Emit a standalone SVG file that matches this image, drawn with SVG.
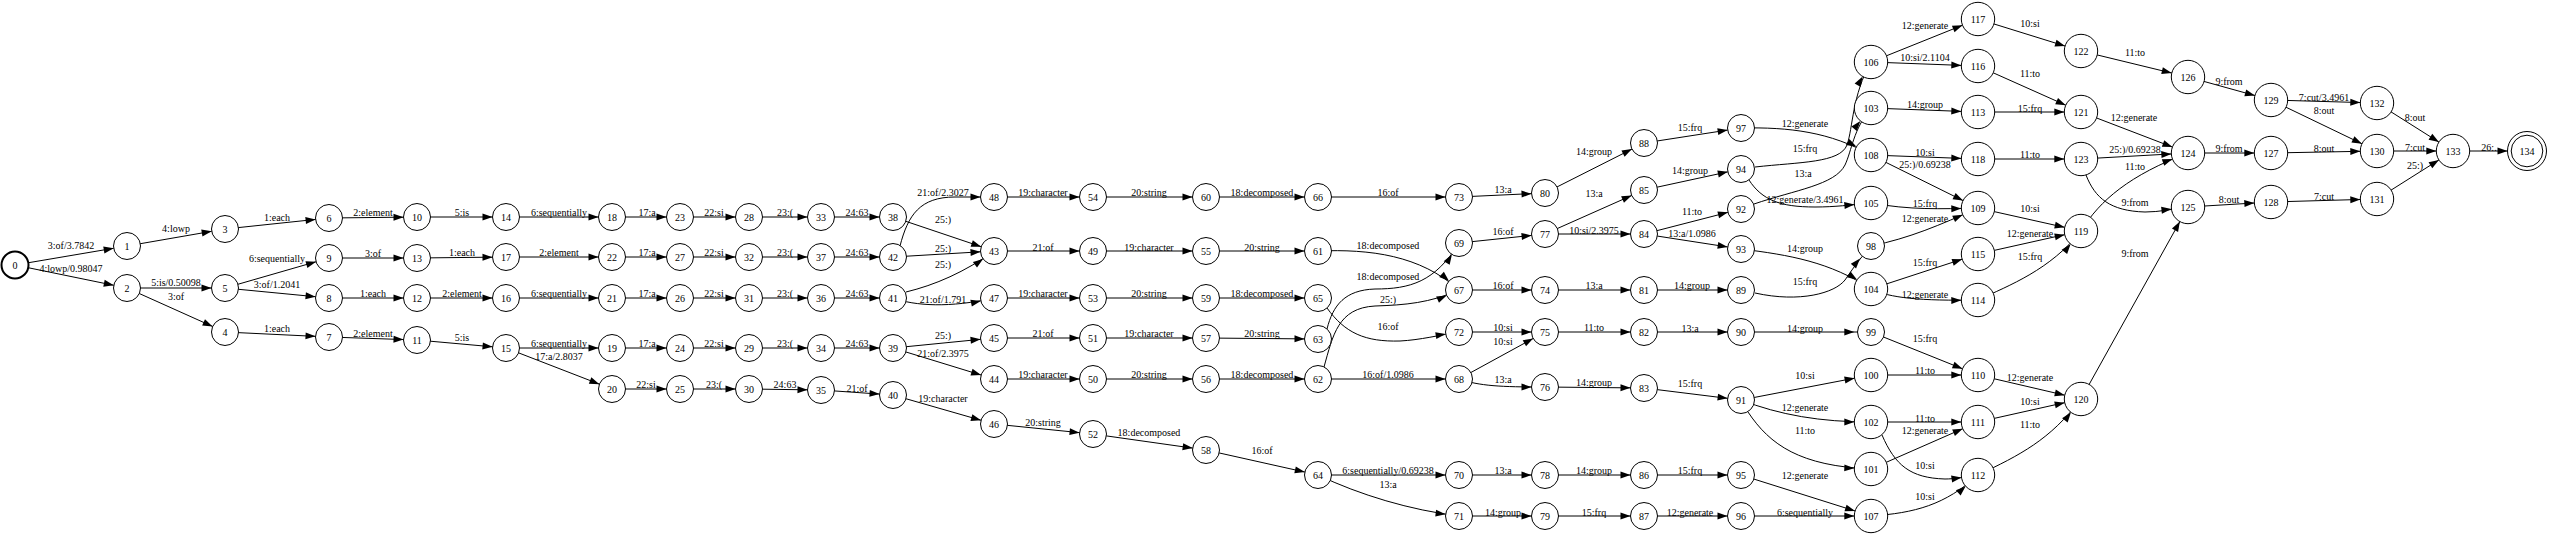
<svg xmlns="http://www.w3.org/2000/svg" width="2550" height="536" viewBox="0 0 2550 536">
<style>
.e{fill:none;stroke:#000;stroke-width:1}
.m{marker-end:url(#a13)}
.M{marker-end:url(#a17)}
.l{font-family:"Liberation Serif","Times New Roman",serif;font-size:10px;text-anchor:middle;fill:#000}
.n circle{fill:#fff;stroke:#000;stroke-width:1}
.n text{font-family:"Liberation Serif","Times New Roman",serif;font-size:10px;text-anchor:middle;fill:#000}
</style>
<defs>
<marker id="a13" markerUnits="userSpaceOnUse" markerWidth="10" markerHeight="7" refX="23.5" refY="3.5" orient="auto" overflow="visible"><path d="M0,0L10,3.5L0,7z" fill="#000"/></marker>
<marker id="a17" markerUnits="userSpaceOnUse" markerWidth="10" markerHeight="7" refX="26.7" refY="3.5" orient="auto" overflow="visible"><path d="M0,0L10,3.5L0,7z" fill="#000"/></marker>
<marker id="a20" markerUnits="userSpaceOnUse" markerWidth="10" markerHeight="7" refX="29.5" refY="3.5" orient="auto" overflow="visible"><path d="M0,0L10,3.5L0,7z" fill="#000"/></marker>
</defs>
<rect width="2550" height="536" fill="#fff"/>
<g id="connectors">
<path class="e m" d="M15,265L127,246"/><text class="l" x="71" y="248.5">3:of/3.7842</text>
<path class="e m" d="M15,265L127,288"/><text class="l" x="71" y="272">4:lowp/0.98047</text>
<path class="e m" d="M127,246L225,229"/><text class="l" x="176" y="231.5">4:lowp</text>
<path class="e m" d="M127,288L225,288"/><text class="l" x="176" y="285.5">5:is/0.50098</text>
<path class="e m" d="M127,288L225,332"/><text class="l" x="176" y="299.5">3:of</text>
<path class="e m" d="M225,229L329,218"/><text class="l" x="277" y="220.5">1:each</text>
<path class="e m" d="M225,288L329,258"/><text class="l" x="277" y="261.5">6:sequentially</text>
<path class="e m" d="M225,288L329,298"/><text class="l" x="277" y="287.5">3:of/1.2041</text>
<path class="e m" d="M225,332L329,337"/><text class="l" x="277" y="331.5">1:each</text>
<path class="e m" d="M329,218L417,217"/><text class="l" x="373" y="215.5">2:element</text>
<path class="e m" d="M329,258L417,258"/><text class="l" x="373" y="256.5">3:of</text>
<path class="e m" d="M329,298L417,298"/><text class="l" x="373" y="296.5">1:each</text>
<path class="e m" d="M329,337L417,340"/><text class="l" x="373" y="336.5">2:element</text>
<path class="e m" d="M417,217L506,217"/><text class="l" x="462" y="215.5">5:is</text>
<path class="e m" d="M417,258L506,257"/><text class="l" x="462" y="255.5">1:each</text>
<path class="e m" d="M417,298L506,298"/><text class="l" x="462" y="296.5">2:element</text>
<path class="e m" d="M417,340L506,348"/><text class="l" x="462" y="340.5">5:is</text>
<path class="e m" d="M506,217L612,217"/><text class="l" x="559" y="215.5">6:sequentially</text>
<path class="e m" d="M506,257L612,257"/><text class="l" x="559" y="255.5">2:element</text>
<path class="e m" d="M506,298L612,298"/><text class="l" x="559" y="296.5">6:sequentially</text>
<path class="e m" d="M506,348L612,348"/><text class="l" x="559" y="346.5">6:sequentially</text>
<path class="e m" d="M506,348L612,389"/><text class="l" x="559" y="359.5">17:a/2.8037</text>
<path class="e m" d="M612,217L680,217"/><text class="l" x="647" y="215.5">17:a</text>
<path class="e m" d="M612,257L680,257"/><text class="l" x="647" y="255.5">17:a</text>
<path class="e m" d="M612,298L680,298"/><text class="l" x="647" y="296.5">17:a</text>
<path class="e m" d="M612,348L680,348"/><text class="l" x="647" y="346.5">17:a</text>
<path class="e m" d="M612,389L680,389"/><text class="l" x="646" y="387.5">22:si</text>
<path class="e m" d="M680,217L749,217"/><text class="l" x="714" y="215.5">22:si</text>
<path class="e m" d="M680,257L749,257"/><text class="l" x="714" y="255.5">22:si</text>
<path class="e m" d="M680,298L749,298"/><text class="l" x="714" y="296.5">22:si</text>
<path class="e m" d="M680,348L749,348"/><text class="l" x="714" y="346.5">22:si</text>
<path class="e m" d="M680,389L749,389"/><text class="l" x="714" y="387.5">23:(</text>
<path class="e m" d="M749,217L821,217"/><text class="l" x="785" y="215.5">23:(</text>
<path class="e m" d="M749,257L821,257"/><text class="l" x="785" y="255.5">23:(</text>
<path class="e m" d="M749,298L821,298"/><text class="l" x="785" y="296.5">23:(</text>
<path class="e m" d="M749,348L821,348"/><text class="l" x="785" y="346.5">23:(</text>
<path class="e m" d="M749,389L821,390"/><text class="l" x="785" y="387.5">24:63</text>
<path class="e m" d="M821,217L893,217"/><text class="l" x="857" y="215.5">24:63</text>
<path class="e m" d="M821,257L893,257"/><text class="l" x="857" y="255.5">24:63</text>
<path class="e m" d="M821,298L893,298"/><text class="l" x="857" y="296.5">24:63</text>
<path class="e m" d="M821,348L893,348"/><text class="l" x="857" y="346.5">24:63</text>
<path class="e m" d="M821,390L893,395"/><text class="l" x="857" y="391.5">21:of</text>
<path class="e m" d="M893,217L994,251"/><text class="l" x="943" y="222.5">25:)</text>
<path class="e m" d="M900,246C908,215 920,197 955,197L994,197"/><text class="l" x="943" y="195.5">21:of/2.3027</text>
<path class="e m" d="M893,257L994,251"/><text class="l" x="943" y="251.5">25:)</text>
<path class="e m" d="M906,292C935,285 965,272 994,251"/><text class="l" x="943" y="267.5">25:)</text>
<path class="e m" d="M893,298C915,306 950,308 994,298"/><text class="l" x="943" y="302.5">21:of/1.791</text>
<path class="e m" d="M893,348L994,338"/><text class="l" x="943" y="338.5">25:)</text>
<path class="e m" d="M893,348L994,379"/><text class="l" x="943" y="356.5">21:of/2.3975</text>
<path class="e m" d="M893,395L994,424"/><text class="l" x="943" y="401.5">19:character</text>
<path class="e m" d="M994,197L1093,197"/><text class="l" x="1043" y="195.5">19:character</text>
<path class="e m" d="M994,251L1093,251"/><text class="l" x="1043" y="250.5">21:of</text>
<path class="e m" d="M994,298L1093,298"/><text class="l" x="1043" y="296.5">19:character</text>
<path class="e m" d="M994,338L1093,338"/><text class="l" x="1043" y="336.5">21:of</text>
<path class="e m" d="M994,379L1093,379"/><text class="l" x="1043" y="377.5">19:character</text>
<path class="e m" d="M994,424L1093,434"/><text class="l" x="1043" y="425.5">20:string</text>
<path class="e m" d="M1093,197L1206,197"/><text class="l" x="1149" y="195.5">20:string</text>
<path class="e m" d="M1093,251L1206,251"/><text class="l" x="1149" y="250.5">19:character</text>
<path class="e m" d="M1093,298L1206,298"/><text class="l" x="1149" y="296.5">20:string</text>
<path class="e m" d="M1093,338L1206,338"/><text class="l" x="1149" y="336.5">19:character</text>
<path class="e m" d="M1093,379L1206,379"/><text class="l" x="1149" y="377.5">20:string</text>
<path class="e m" d="M1093,434L1206,450"/><text class="l" x="1149" y="435.5">18:decomposed</text>
<path class="e m" d="M1206,197L1318,197"/><text class="l" x="1262" y="195.5">18:decomposed</text>
<path class="e m" d="M1206,251L1318,251"/><text class="l" x="1262" y="250.5">20:string</text>
<path class="e m" d="M1206,298L1318,298"/><text class="l" x="1262" y="296.5">18:decomposed</text>
<path class="e m" d="M1206,338L1318,339"/><text class="l" x="1262" y="336.5">20:string</text>
<path class="e m" d="M1206,379L1318,379"/><text class="l" x="1262" y="377.5">18:decomposed</text>
<path class="e m" d="M1206,450L1318,475"/><text class="l" x="1262" y="453.5">16:of</text>
<path class="e m" d="M1318,197L1459,197"/><text class="l" x="1388" y="195.5">16:of</text>
<path class="e m" d="M1318,251C1370,249 1420,255 1459,290"/><text class="l" x="1388" y="248.5">18:decomposed</text>
<path class="e m" d="M1327,329C1333,305 1345,290 1375,289C1410,289 1435,282 1459,243"/><text class="l" x="1388" y="279.5">18:decomposed</text>
<path class="e m" d="M1324,367C1333,335 1338,308 1375,306C1405,305 1430,303 1459,290"/><text class="l" x="1388" y="302.5">25:)</text>
<path class="e m" d="M1327,308C1345,333 1365,342 1400,341C1420,340 1440,335 1459,332"/><text class="l" x="1388" y="329.5">16:of</text>
<path class="e m" d="M1318,379L1459,379"/><text class="l" x="1388" y="377.5">16:of/1.0986</text>
<path class="e m" d="M1318,475L1459,475"/><text class="l" x="1388" y="473.5">6:sequentially/0.69238</text>
<path class="e m" d="M1318,475C1360,495 1410,510 1459,516"/><text class="l" x="1388" y="487.5">13:a</text>
<path class="e m" d="M1459,197L1545,193"/><text class="l" x="1503" y="192.5">13:a</text>
<path class="e m" d="M1459,243L1545,234"/><text class="l" x="1503" y="234.5">16:of</text>
<path class="e m" d="M1459,290L1545,290"/><text class="l" x="1503" y="288.5">16:of</text>
<path class="e m" d="M1459,332L1545,332"/><text class="l" x="1503" y="330.5">10:si</text>
<path class="e m" d="M1459,379L1545,332"/><text class="l" x="1503" y="344.5">10:si</text>
<path class="e m" d="M1459,379C1480,386 1500,387 1545,387"/><text class="l" x="1503" y="382.5">13:a</text>
<path class="e m" d="M1459,475L1545,475"/><text class="l" x="1503" y="473.5">13:a</text>
<path class="e m" d="M1459,516L1545,516"/><text class="l" x="1503" y="515.5">14:group</text>
<path class="e m" d="M1545,193L1644,143"/><text class="l" x="1594" y="154.5">14:group</text>
<path class="e m" d="M1545,234L1644,190"/><text class="l" x="1594" y="196.5">13:a</text>
<path class="e m" d="M1545,234L1644,234"/><text class="l" x="1594" y="233.5">10:si/2.3975</text>
<path class="e m" d="M1545,290L1644,290"/><text class="l" x="1594" y="288.5">13:a</text>
<path class="e m" d="M1545,332L1644,332"/><text class="l" x="1594" y="330.5">11:to</text>
<path class="e m" d="M1545,387L1644,388"/><text class="l" x="1594" y="385.5">14:group</text>
<path class="e m" d="M1545,475L1644,475"/><text class="l" x="1594" y="473.5">14:group</text>
<path class="e m" d="M1545,516L1644,516"/><text class="l" x="1594" y="515.5">15:frq</text>
<path class="e m" d="M1644,143L1741,128"/><text class="l" x="1690" y="130.5">15:frq</text>
<path class="e m" d="M1644,190L1741,169"/><text class="l" x="1690" y="173.5">14:group</text>
<path class="e m" d="M1644,234L1741,209"/><text class="l" x="1692" y="214.5">11:to</text>
<path class="e m" d="M1644,234L1741,249"/><text class="l" x="1692" y="236.5">13:a/1.0986</text>
<path class="e m" d="M1644,290L1741,290"/><text class="l" x="1692" y="288.5">14:group</text>
<path class="e m" d="M1644,332L1741,332"/><text class="l" x="1690" y="331.5">13:a</text>
<path class="e m" d="M1644,388L1741,400"/><text class="l" x="1690" y="386.5">15:frq</text>
<path class="e m" d="M1644,475L1741,475"/><text class="l" x="1690" y="473.5">15:frq</text>
<path class="e m" d="M1644,516L1741,516"/><text class="l" x="1690" y="515.5">12:generate</text>
<path class="e M" d="M1741,128C1790,127 1830,132 1871,155"/><text class="l" x="1805" y="126.5">12:generate</text>
<path class="e M" d="M1755,167C1800,162 1840,163 1847,145C1853,128 1852,95 1871,62"/><text class="l" x="1805" y="151.5">15:frq</text>
<path class="e M" d="M1754,204C1795,190 1835,185 1845,165C1852,150 1853,130 1871,108"/><text class="l" x="1803" y="176.5">13:a</text>
<path class="e M" d="M1749,180C1762,200 1780,207 1815,207C1835,207 1850,205 1871,203"/><text class="l" x="1805" y="202.5">12:generate/3.4961</text>
<path class="e M" d="M1741,249C1790,255 1830,262 1871,289"/><text class="l" x="1805" y="251.5">14:group</text>
<path class="e M" d="M1755,293C1800,303 1835,293 1845,280C1852,270 1857,262 1871,246"/><text class="l" x="1805" y="284.5">15:frq</text>
<path class="e M" d="M1741,332L1871,332"/><text class="l" x="1805" y="331.5">14:group</text>
<path class="e M" d="M1741,400L1871,375"/><text class="l" x="1805" y="378.5">10:si</text>
<path class="e M" d="M1741,400C1780,415 1820,422 1871,422"/><text class="l" x="1805" y="410.5">12:generate</text>
<path class="e M" d="M1748,412C1770,445 1800,466 1871,469"/><text class="l" x="1805" y="433.5">11:to</text>
<path class="e M" d="M1741,475L1871,516"/><text class="l" x="1805" y="478.5">12:generate</text>
<path class="e M" d="M1741,516L1871,516"/><text class="l" x="1805" y="515.5">6:sequentially</text>
<path class="e M" d="M1871,62L1978,19"/><text class="l" x="1925" y="28.5">12:generate</text>
<path class="e M" d="M1871,62L1978,66"/><text class="l" x="1925" y="60.5">10:si/2.1104</text>
<path class="e M" d="M1871,108L1978,112"/><text class="l" x="1925" y="107.5">14:group</text>
<path class="e M" d="M1871,155L1978,159"/><text class="l" x="1925" y="155.5">10:si</text>
<path class="e M" d="M1871,155L1978,208"/><text class="l" x="1925" y="167.5">25:)/0.69238</text>
<path class="e M" d="M1871,203C1910,210 1940,209 1978,208"/><text class="l" x="1925" y="206.5">15:frq</text>
<path class="e M" d="M1871,246C1910,238 1940,225 1978,208"/><text class="l" x="1925" y="221.5">12:generate</text>
<path class="e M" d="M1871,289L1978,254"/><text class="l" x="1925" y="265.5">15:frq</text>
<path class="e M" d="M1871,289C1890,298 1920,301 1978,300"/><text class="l" x="1925" y="297.5">12:generate</text>
<path class="e M" d="M1871,332L1978,375"/><text class="l" x="1925" y="341.5">15:frq</text>
<path class="e M" d="M1871,375L1978,375"/><text class="l" x="1925" y="373.5">11:to</text>
<path class="e M" d="M1871,422L1978,422"/><text class="l" x="1925" y="421.5">11:to</text>
<path class="e M" d="M1871,469L1978,422"/><text class="l" x="1925" y="433.5">12:generate</text>
<path class="e M" d="M1882,435C1895,465 1910,478 1945,479C1955,479 1965,477 1978,475"/><text class="l" x="1925" y="468.5">10:si</text>
<path class="e M" d="M1871,516C1915,513 1945,505 1978,475"/><text class="l" x="1925" y="499.5">10:si</text>
<path class="e M" d="M1978,19L2081,51"/><text class="l" x="2030" y="26.5">10:si</text>
<path class="e M" d="M1978,66L2081,112"/><text class="l" x="2030" y="76.5">11:to</text>
<path class="e M" d="M1978,112L2081,112"/><text class="l" x="2030" y="111.5">15:frq</text>
<path class="e M" d="M1978,159L2081,159"/><text class="l" x="2030" y="157.5">11:to</text>
<path class="e M" d="M1978,208L2081,231"/><text class="l" x="2030" y="211.5">10:si</text>
<path class="e M" d="M1978,254L2081,231"/><text class="l" x="2030" y="236.5">12:generate</text>
<path class="e M" d="M1978,300C2010,285 2050,270 2081,231"/><text class="l" x="2030" y="259.5">15:frq</text>
<path class="e M" d="M1978,375L2081,399"/><text class="l" x="2030" y="380.5">12:generate</text>
<path class="e M" d="M1978,422L2081,399"/><text class="l" x="2030" y="404.5">10:si</text>
<path class="e M" d="M1978,475C2020,455 2050,440 2081,399"/><text class="l" x="2030" y="427.5">11:to</text>
<path class="e M" d="M2081,51L2188,77"/><text class="l" x="2135" y="55.5">11:to</text>
<path class="e M" d="M2081,112L2188,153"/><text class="l" x="2134" y="120.5">12:generate</text>
<path class="e M" d="M2081,159L2188,153"/><text class="l" x="2135" y="152.5">25:)/0.69238</text>
<path class="e M" d="M2081,231C2100,200 2130,175 2188,153"/><text class="l" x="2135" y="169.5">11:to</text>
<path class="e M" d="M2086,175C2095,198 2110,211 2145,212C2160,212 2172,209 2188,207"/><text class="l" x="2135" y="205.5">9:from</text>
<path class="e M" d="M2081,399L2188,207"/><text class="l" x="2135" y="256.5">9:from</text>
<path class="e M" d="M2188,77L2271,100"/><text class="l" x="2229" y="84.5">9:from</text>
<path class="e M" d="M2188,153L2271,153"/><text class="l" x="2229" y="151.5">9:from</text>
<path class="e M" d="M2188,207L2271,202"/><text class="l" x="2229" y="202.5">8:out</text>
<path class="e M" d="M2271,100L2377,103"/><text class="l" x="2324" y="100.5">7:cut/3.4961</text>
<path class="e M" d="M2271,100L2377,151"/><text class="l" x="2324" y="113.5">8:out</text>
<path class="e M" d="M2271,153L2377,151"/><text class="l" x="2324" y="151.5">8:out</text>
<path class="e M" d="M2271,202L2377,199"/><text class="l" x="2324" y="199.5">7:cut</text>
<path class="e M" d="M2377,103L2453,151"/><text class="l" x="2415" y="120.5">8:out</text>
<path class="e M" d="M2377,151L2453,151"/><text class="l" x="2415" y="150.5">7:cut</text>
<path class="e M" d="M2377,199L2453,151"/><text class="l" x="2415" y="168.5">25:)</text>
<path class="e" marker-end="url(#a20)" d="M2453,151L2527,151"/><text class="l" x="2489" y="150.5">26:.</text>
</g>
<g id="nodes">
<g id="n0" class="n"><circle cx="15" cy="265" r="13.5" style="stroke-width:2"/><text x="15" y="268.5">0</text></g>
<g id="n1" class="n"><circle cx="127" cy="246" r="13.5"/><text x="127" y="249.5">1</text></g>
<g id="n2" class="n"><circle cx="127" cy="288" r="13.5"/><text x="127" y="291.5">2</text></g>
<g id="n3" class="n"><circle cx="225" cy="229" r="13.5"/><text x="225" y="232.5">3</text></g>
<g id="n4" class="n"><circle cx="225" cy="332" r="13.5"/><text x="225" y="335.5">4</text></g>
<g id="n5" class="n"><circle cx="225" cy="288" r="13.5"/><text x="225" y="291.5">5</text></g>
<g id="n6" class="n"><circle cx="329" cy="218" r="13.5"/><text x="329" y="221.5">6</text></g>
<g id="n7" class="n"><circle cx="329" cy="337" r="13.5"/><text x="329" y="340.5">7</text></g>
<g id="n8" class="n"><circle cx="329" cy="298" r="13.5"/><text x="329" y="301.5">8</text></g>
<g id="n9" class="n"><circle cx="329" cy="258" r="13.5"/><text x="329" y="261.5">9</text></g>
<g id="n10" class="n"><circle cx="417" cy="217" r="13.5"/><text x="417" y="220.5">10</text></g>
<g id="n11" class="n"><circle cx="417" cy="340" r="13.5"/><text x="417" y="343.5">11</text></g>
<g id="n12" class="n"><circle cx="417" cy="298" r="13.5"/><text x="417" y="301.5">12</text></g>
<g id="n13" class="n"><circle cx="417" cy="258" r="13.5"/><text x="417" y="261.5">13</text></g>
<g id="n14" class="n"><circle cx="506" cy="217" r="13.5"/><text x="506" y="220.5">14</text></g>
<g id="n15" class="n"><circle cx="506" cy="348" r="13.5"/><text x="506" y="351.5">15</text></g>
<g id="n16" class="n"><circle cx="506" cy="298" r="13.5"/><text x="506" y="301.5">16</text></g>
<g id="n17" class="n"><circle cx="506" cy="257" r="13.5"/><text x="506" y="260.5">17</text></g>
<g id="n18" class="n"><circle cx="612" cy="217" r="13.5"/><text x="612" y="220.5">18</text></g>
<g id="n19" class="n"><circle cx="612" cy="348" r="13.5"/><text x="612" y="351.5">19</text></g>
<g id="n20" class="n"><circle cx="612" cy="389" r="13.5"/><text x="612" y="392.5">20</text></g>
<g id="n21" class="n"><circle cx="612" cy="298" r="13.5"/><text x="612" y="301.5">21</text></g>
<g id="n22" class="n"><circle cx="612" cy="257" r="13.5"/><text x="612" y="260.5">22</text></g>
<g id="n23" class="n"><circle cx="680" cy="217" r="13.5"/><text x="680" y="220.5">23</text></g>
<g id="n24" class="n"><circle cx="680" cy="348" r="13.5"/><text x="680" y="351.5">24</text></g>
<g id="n25" class="n"><circle cx="680" cy="389" r="13.5"/><text x="680" y="392.5">25</text></g>
<g id="n26" class="n"><circle cx="680" cy="298" r="13.5"/><text x="680" y="301.5">26</text></g>
<g id="n27" class="n"><circle cx="680" cy="257" r="13.5"/><text x="680" y="260.5">27</text></g>
<g id="n28" class="n"><circle cx="749" cy="217" r="13.5"/><text x="749" y="220.5">28</text></g>
<g id="n29" class="n"><circle cx="749" cy="348" r="13.5"/><text x="749" y="351.5">29</text></g>
<g id="n30" class="n"><circle cx="749" cy="389" r="13.5"/><text x="749" y="392.5">30</text></g>
<g id="n31" class="n"><circle cx="749" cy="298" r="13.5"/><text x="749" y="301.5">31</text></g>
<g id="n32" class="n"><circle cx="749" cy="257" r="13.5"/><text x="749" y="260.5">32</text></g>
<g id="n33" class="n"><circle cx="821" cy="217" r="13.5"/><text x="821" y="220.5">33</text></g>
<g id="n34" class="n"><circle cx="821" cy="348" r="13.5"/><text x="821" y="351.5">34</text></g>
<g id="n35" class="n"><circle cx="821" cy="390" r="13.5"/><text x="821" y="393.5">35</text></g>
<g id="n36" class="n"><circle cx="821" cy="298" r="13.5"/><text x="821" y="301.5">36</text></g>
<g id="n37" class="n"><circle cx="821" cy="257" r="13.5"/><text x="821" y="260.5">37</text></g>
<g id="n38" class="n"><circle cx="893" cy="217" r="13.5"/><text x="893" y="220.5">38</text></g>
<g id="n39" class="n"><circle cx="893" cy="348" r="13.5"/><text x="893" y="351.5">39</text></g>
<g id="n40" class="n"><circle cx="893" cy="395" r="13.5"/><text x="893" y="398.5">40</text></g>
<g id="n41" class="n"><circle cx="893" cy="298" r="13.5"/><text x="893" y="301.5">41</text></g>
<g id="n42" class="n"><circle cx="893" cy="257" r="13.5"/><text x="893" y="260.5">42</text></g>
<g id="n43" class="n"><circle cx="994" cy="251" r="13.5"/><text x="994" y="254.5">43</text></g>
<g id="n44" class="n"><circle cx="994" cy="379" r="13.5"/><text x="994" y="382.5">44</text></g>
<g id="n45" class="n"><circle cx="994" cy="338" r="13.5"/><text x="994" y="341.5">45</text></g>
<g id="n46" class="n"><circle cx="994" cy="424" r="13.5"/><text x="994" y="427.5">46</text></g>
<g id="n47" class="n"><circle cx="994" cy="298" r="13.5"/><text x="994" y="301.5">47</text></g>
<g id="n48" class="n"><circle cx="994" cy="197" r="13.5"/><text x="994" y="200.5">48</text></g>
<g id="n49" class="n"><circle cx="1093" cy="251" r="13.5"/><text x="1093" y="254.5">49</text></g>
<g id="n50" class="n"><circle cx="1093" cy="379" r="13.5"/><text x="1093" y="382.5">50</text></g>
<g id="n51" class="n"><circle cx="1093" cy="338" r="13.5"/><text x="1093" y="341.5">51</text></g>
<g id="n52" class="n"><circle cx="1093" cy="434" r="13.5"/><text x="1093" y="437.5">52</text></g>
<g id="n53" class="n"><circle cx="1093" cy="298" r="13.5"/><text x="1093" y="301.5">53</text></g>
<g id="n54" class="n"><circle cx="1093" cy="197" r="13.5"/><text x="1093" y="200.5">54</text></g>
<g id="n55" class="n"><circle cx="1206" cy="251" r="13.5"/><text x="1206" y="254.5">55</text></g>
<g id="n56" class="n"><circle cx="1206" cy="379" r="13.5"/><text x="1206" y="382.5">56</text></g>
<g id="n57" class="n"><circle cx="1206" cy="338" r="13.5"/><text x="1206" y="341.5">57</text></g>
<g id="n58" class="n"><circle cx="1206" cy="450" r="13.5"/><text x="1206" y="453.5">58</text></g>
<g id="n59" class="n"><circle cx="1206" cy="298" r="13.5"/><text x="1206" y="301.5">59</text></g>
<g id="n60" class="n"><circle cx="1206" cy="197" r="13.5"/><text x="1206" y="200.5">60</text></g>
<g id="n61" class="n"><circle cx="1318" cy="251" r="13.5"/><text x="1318" y="254.5">61</text></g>
<g id="n62" class="n"><circle cx="1318" cy="379" r="13.5"/><text x="1318" y="382.5">62</text></g>
<g id="n63" class="n"><circle cx="1318" cy="339" r="13.5"/><text x="1318" y="342.5">63</text></g>
<g id="n64" class="n"><circle cx="1318" cy="475" r="13.5"/><text x="1318" y="478.5">64</text></g>
<g id="n65" class="n"><circle cx="1318" cy="298" r="13.5"/><text x="1318" y="301.5">65</text></g>
<g id="n66" class="n"><circle cx="1318" cy="197" r="13.5"/><text x="1318" y="200.5">66</text></g>
<g id="n67" class="n"><circle cx="1459" cy="290" r="13.5"/><text x="1459" y="293.5">67</text></g>
<g id="n68" class="n"><circle cx="1459" cy="379" r="13.5"/><text x="1459" y="382.5">68</text></g>
<g id="n69" class="n"><circle cx="1459" cy="243" r="13.5"/><text x="1459" y="246.5">69</text></g>
<g id="n70" class="n"><circle cx="1459" cy="475" r="13.5"/><text x="1459" y="478.5">70</text></g>
<g id="n71" class="n"><circle cx="1459" cy="516" r="13.5"/><text x="1459" y="519.5">71</text></g>
<g id="n72" class="n"><circle cx="1459" cy="332" r="13.5"/><text x="1459" y="335.5">72</text></g>
<g id="n73" class="n"><circle cx="1459" cy="197" r="13.5"/><text x="1459" y="200.5">73</text></g>
<g id="n74" class="n"><circle cx="1545" cy="290" r="13.5"/><text x="1545" y="293.5">74</text></g>
<g id="n75" class="n"><circle cx="1545" cy="332" r="13.5"/><text x="1545" y="335.5">75</text></g>
<g id="n76" class="n"><circle cx="1545" cy="387" r="13.5"/><text x="1545" y="390.5">76</text></g>
<g id="n77" class="n"><circle cx="1545" cy="234" r="13.5"/><text x="1545" y="237.5">77</text></g>
<g id="n78" class="n"><circle cx="1545" cy="475" r="13.5"/><text x="1545" y="478.5">78</text></g>
<g id="n79" class="n"><circle cx="1545" cy="516" r="13.5"/><text x="1545" y="519.5">79</text></g>
<g id="n80" class="n"><circle cx="1545" cy="193" r="13.5"/><text x="1545" y="196.5">80</text></g>
<g id="n81" class="n"><circle cx="1644" cy="290" r="13.5"/><text x="1644" y="293.5">81</text></g>
<g id="n82" class="n"><circle cx="1644" cy="332" r="13.5"/><text x="1644" y="335.5">82</text></g>
<g id="n83" class="n"><circle cx="1644" cy="388" r="13.5"/><text x="1644" y="391.5">83</text></g>
<g id="n84" class="n"><circle cx="1644" cy="234" r="13.5"/><text x="1644" y="237.5">84</text></g>
<g id="n85" class="n"><circle cx="1644" cy="190" r="13.5"/><text x="1644" y="193.5">85</text></g>
<g id="n86" class="n"><circle cx="1644" cy="475" r="13.5"/><text x="1644" y="478.5">86</text></g>
<g id="n87" class="n"><circle cx="1644" cy="516" r="13.5"/><text x="1644" y="519.5">87</text></g>
<g id="n88" class="n"><circle cx="1644" cy="143" r="13.5"/><text x="1644" y="146.5">88</text></g>
<g id="n89" class="n"><circle cx="1741" cy="290" r="13.5"/><text x="1741" y="293.5">89</text></g>
<g id="n90" class="n"><circle cx="1741" cy="332" r="13.5"/><text x="1741" y="335.5">90</text></g>
<g id="n91" class="n"><circle cx="1741" cy="400" r="13.5"/><text x="1741" y="403.5">91</text></g>
<g id="n92" class="n"><circle cx="1741" cy="209" r="13.5"/><text x="1741" y="212.5">92</text></g>
<g id="n93" class="n"><circle cx="1741" cy="249" r="13.5"/><text x="1741" y="252.5">93</text></g>
<g id="n94" class="n"><circle cx="1741" cy="169" r="13.5"/><text x="1741" y="172.5">94</text></g>
<g id="n95" class="n"><circle cx="1741" cy="475" r="13.5"/><text x="1741" y="478.5">95</text></g>
<g id="n96" class="n"><circle cx="1741" cy="516" r="13.5"/><text x="1741" y="519.5">96</text></g>
<g id="n97" class="n"><circle cx="1741" cy="128" r="13.5"/><text x="1741" y="131.5">97</text></g>
<g id="n98" class="n"><circle cx="1871" cy="246" r="13.5"/><text x="1871" y="249.5">98</text></g>
<g id="n99" class="n"><circle cx="1871" cy="332" r="13.5"/><text x="1871" y="335.5">99</text></g>
<g id="n100" class="n"><circle cx="1871" cy="375" r="16.7"/><text x="1871" y="378.5">100</text></g>
<g id="n101" class="n"><circle cx="1871" cy="469" r="16.7"/><text x="1871" y="472.5">101</text></g>
<g id="n102" class="n"><circle cx="1871" cy="422" r="16.7"/><text x="1871" y="425.5">102</text></g>
<g id="n103" class="n"><circle cx="1871" cy="108" r="16.7"/><text x="1871" y="111.5">103</text></g>
<g id="n104" class="n"><circle cx="1871" cy="289" r="16.7"/><text x="1871" y="292.5">104</text></g>
<g id="n105" class="n"><circle cx="1871" cy="203" r="16.7"/><text x="1871" y="206.5">105</text></g>
<g id="n106" class="n"><circle cx="1871" cy="62" r="16.7"/><text x="1871" y="65.5">106</text></g>
<g id="n107" class="n"><circle cx="1871" cy="516" r="16.7"/><text x="1871" y="519.5">107</text></g>
<g id="n108" class="n"><circle cx="1871" cy="155" r="16.7"/><text x="1871" y="158.5">108</text></g>
<g id="n109" class="n"><circle cx="1978" cy="208" r="16.7"/><text x="1978" y="211.5">109</text></g>
<g id="n110" class="n"><circle cx="1978" cy="375" r="16.7"/><text x="1978" y="378.5">110</text></g>
<g id="n111" class="n"><circle cx="1978" cy="422" r="16.7"/><text x="1978" y="425.5">111</text></g>
<g id="n112" class="n"><circle cx="1978" cy="475" r="16.7"/><text x="1978" y="478.5">112</text></g>
<g id="n113" class="n"><circle cx="1978" cy="112" r="16.7"/><text x="1978" y="115.5">113</text></g>
<g id="n114" class="n"><circle cx="1978" cy="300" r="16.7"/><text x="1978" y="303.5">114</text></g>
<g id="n115" class="n"><circle cx="1978" cy="254" r="16.7"/><text x="1978" y="257.5">115</text></g>
<g id="n116" class="n"><circle cx="1978" cy="66" r="16.7"/><text x="1978" y="69.5">116</text></g>
<g id="n117" class="n"><circle cx="1978" cy="19" r="16.7"/><text x="1978" y="22.5">117</text></g>
<g id="n118" class="n"><circle cx="1978" cy="159" r="16.7"/><text x="1978" y="162.5">118</text></g>
<g id="n119" class="n"><circle cx="2081" cy="231" r="16.7"/><text x="2081" y="234.5">119</text></g>
<g id="n120" class="n"><circle cx="2081" cy="399" r="16.7"/><text x="2081" y="402.5">120</text></g>
<g id="n121" class="n"><circle cx="2081" cy="112" r="16.7"/><text x="2081" y="115.5">121</text></g>
<g id="n122" class="n"><circle cx="2081" cy="51" r="16.7"/><text x="2081" y="54.5">122</text></g>
<g id="n123" class="n"><circle cx="2081" cy="159" r="16.7"/><text x="2081" y="162.5">123</text></g>
<g id="n124" class="n"><circle cx="2188" cy="153" r="16.7"/><text x="2188" y="156.5">124</text></g>
<g id="n125" class="n"><circle cx="2188" cy="207" r="16.7"/><text x="2188" y="210.5">125</text></g>
<g id="n126" class="n"><circle cx="2188" cy="77" r="16.7"/><text x="2188" y="80.5">126</text></g>
<g id="n127" class="n"><circle cx="2271" cy="153" r="16.7"/><text x="2271" y="156.5">127</text></g>
<g id="n128" class="n"><circle cx="2271" cy="202" r="16.7"/><text x="2271" y="205.5">128</text></g>
<g id="n129" class="n"><circle cx="2271" cy="100" r="16.7"/><text x="2271" y="103.5">129</text></g>
<g id="n130" class="n"><circle cx="2377" cy="151" r="16.7"/><text x="2377" y="154.5">130</text></g>
<g id="n131" class="n"><circle cx="2377" cy="199" r="16.7"/><text x="2377" y="202.5">131</text></g>
<g id="n132" class="n"><circle cx="2377" cy="103" r="16.7"/><text x="2377" y="106.5">132</text></g>
<g id="n133" class="n"><circle cx="2453" cy="151" r="16.7"/><text x="2453" y="154.5">133</text></g>
<g id="n134" class="n"><circle cx="2527" cy="151" r="19.5"/><circle cx="2527" cy="151" r="15.8"/><text x="2527" y="154.5">134</text></g>
</g>
</svg>
